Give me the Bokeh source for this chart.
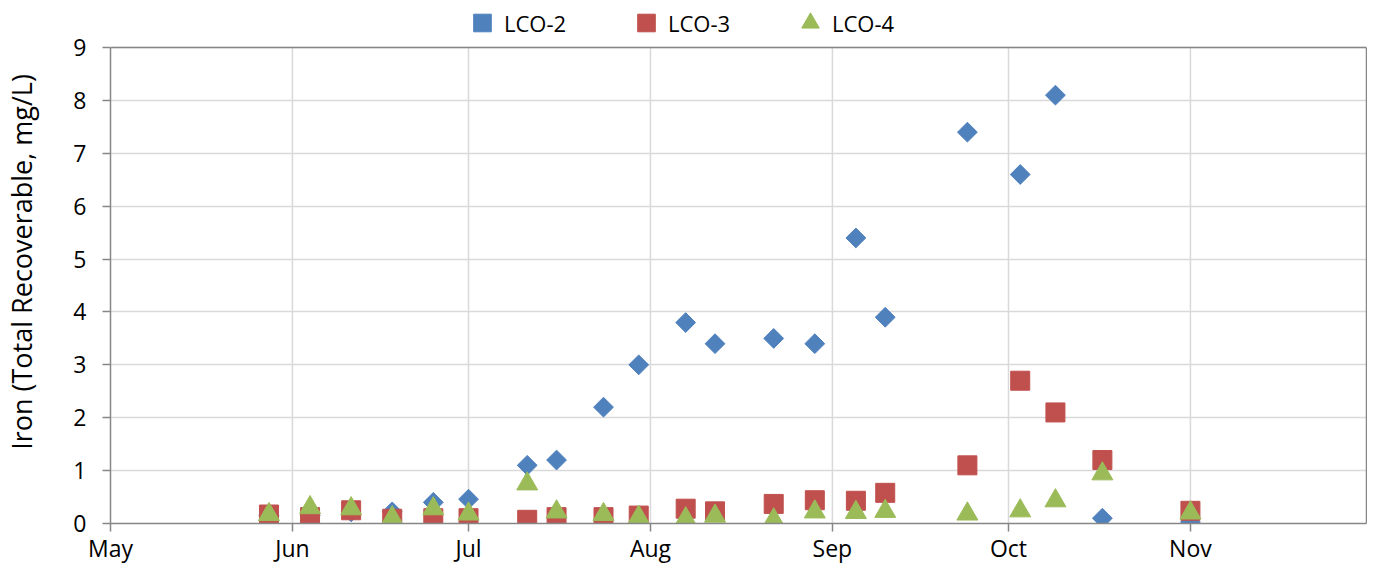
import math
from datetime import datetime

import pandas as pd

from bokeh.embed import file_html
from bokeh.models import ColumnDataSource, DatetimeTickFormatter, FixedTicker, Legend, LegendItem, LinearAxis, MonthsTicker, Range1d, Span
from bokeh.plotting import figure
from bokeh.resources import INLINE

# sampling dates
dates = ["2012-05-28", "2012-06-04", "2012-06-11", "2012-06-18", "2012-06-25",
         "2012-07-01", "2012-07-11", "2012-07-16", "2012-07-24", "2012-07-30",
         "2012-08-07", "2012-08-12", "2012-08-22", "2012-08-29", "2012-09-05",
         "2012-09-10", "2012-09-24", "2012-10-03", "2012-10-09", "2012-10-17",
         "2012-11-01"]

# iron, total recoverable (mg/L)
lco2 = [0.15, 0.15, 0.22, 0.22, 0.40, 0.46, 1.10, 1.20, 2.20, 3.00, 3.80,
        3.40, 3.50, 3.40, 5.40, 3.90, 7.40, 6.60, 8.10, 0.10, 0.03]
lco3 = [0.17, 0.12, 0.25, 0.09, 0.10, 0.10, 0.07, 0.12, 0.12, 0.15, 0.28,
        0.23, 0.37, 0.44, 0.43, 0.58, 1.10, 2.70, 2.10, 1.20, 0.24]
lco4 = [0.17, 0.30, 0.28, 0.11, 0.28, 0.18, 0.75, 0.22, 0.17, 0.12, 0.09,
        0.14, 0.07, 0.22, 0.21, 0.23, 0.18, 0.24, 0.43, 0.94, 0.20]

names = ["LCO-2", "LCO-3", "LCO-4"]
y_ticks = [0, 1, 2, 3, 4, 5, 6, 7, 8, 9]
month_lines = ["2012-06-01", "2012-07-01", "2012-08-01", "2012-09-01", "2012-10-01", "2012-11-01"]

FONT = "Open Sans"
BLUE = "#4F81BD"
RED = "#C0504D"
GREEN = "#9BBB59"
AXIS = "#868686"
GRID = "#D9D9D9"

src = ColumnDataSource(dict(date=pd.to_datetime(dates), lco2=lco2, lco3=lco3, lco4=lco4))
top = y_ticks[-1]

# the frame reaches the top of the canvas, the legend sits in the strip above 9
p = figure(width=1367, height=566, x_axis_type="datetime",
           x_range=Range1d(datetime(2012, 5, 1), datetime(2012, 12, 1)),
           y_range=Range1d(0, 9.89),
           output_backend="svg", toolbar_location=None)

p.min_border_left = 106
p.min_border_right = 1
p.min_border_top = 0
p.min_border_bottom = 42
p.outline_line_alpha = 0

# month grid lines, only as high as the plot area
months = pd.to_datetime(month_lines)
p.segment(x0=months, y0=[0]*len(months), x1=months, y1=[top]*len(months),
          line_color=GRID, line_width=1.5)
p.add_layout(Span(location=top, dimension="width", line_color=AXIS, line_width=1.5))

r2 = p.scatter("date", "lco2", source=src, marker="square", angle=math.pi/4, size=14,
               fill_color=BLUE, line_color=BLUE)
r3 = p.scatter("date", "lco3", source=src, marker="square", size=19,
               fill_color=RED, line_color=RED)
r4 = p.scatter("date", "lco4", source=src, marker="triangle", size=21,
               fill_color=GREEN, line_color=GREEN)

# axes
p.xaxis.ticker = MonthsTicker(months=list(range(11)))
p.xaxis.formatter = DatetimeTickFormatter(months="%b")
p.yaxis.ticker = FixedTicker(ticks=y_ticks)
p.yaxis.bounds = (0, top)

for ax in (p.xaxis, p.yaxis):
    ax.axis_line_color = AXIS
    ax.axis_line_width = 1.5
    ax.major_tick_line_color = AXIS
    ax.major_tick_line_width = 1.5
    ax.major_tick_in = 0
    ax.major_tick_out = 8
    ax.minor_tick_in = 0
    ax.minor_tick_out = 0
    ax.major_label_text_font = FONT
    ax.major_label_text_font_size = "23px"
    ax.major_label_text_color = "#000000"

p.xaxis.major_label_standoff = 0
p.yaxis.major_label_standoff = 16

p.yaxis.axis_label = "Iron (Total Recoverable, mg/L)"
p.yaxis.axis_label_text_font = FONT
p.yaxis.axis_label_text_font_size = "27px"
p.yaxis.axis_label_text_font_style = "normal"
p.yaxis.axis_label_text_color = "#000000"
p.yaxis.axis_label_standoff = 30

# right border of the plot area
edge = LinearAxis(bounds=(0, top), ticker=FixedTicker(ticks=[]), axis_line_color=AXIS,
                  axis_line_width=1.5, major_tick_out=0, minor_tick_out=0,
                  major_label_text_font_size="0px", major_label_standoff=0)
p.add_layout(edge, "right")

p.xgrid.visible = False
p.ygrid.grid_line_color = GRID
p.ygrid.grid_line_width = 1.5

legend = Legend(items=[LegendItem(label=names[0], renderers=[r2]),
                       LegendItem(label=names[1], renderers=[r3]),
                       LegendItem(label=names[2], renderers=[r4])],
                orientation="horizontal", location=(350, 478),
                glyph_width=44, glyph_height=45, label_standoff=0,
                label_width=63, spacing=57,
                padding=0, margin=0, border_line_alpha=0, background_fill_alpha=0,
                label_text_font=FONT, label_text_font_size="22px", label_text_color="#000000")
p.add_layout(legend, "center")

open("out.html", "w").write(file_html(p, INLINE))
